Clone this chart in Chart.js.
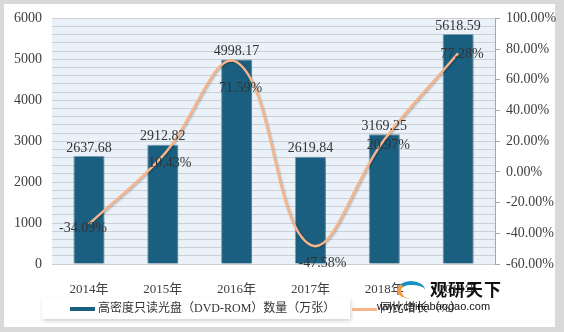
<!DOCTYPE html>
<html>
<head>
<meta charset="utf-8">
<script src="https://cdn.jsdelivr.net/npm/chart.js@4.4.0/dist/chart.umd.min.js"></script>
<style>
  html, body { margin: 0; padding: 0; }
  body { width: 564px; height: 332px; background: #d9d9d9; position: relative; overflow: hidden; font-family: 'Liberation Serif', 'Noto Sans CJK SC', serif; }
  #frame { position: absolute; left: 4px; top: 4px; width: 551px; height: 323px; background: #fff; }
  #chart { position: absolute; left: 0; top: 0; }
  #legend { position: absolute; left: 42px; top: 298px; width: 308px; height: 21px; background: #fff;
    box-shadow: 1px 2px 4px rgba(0,0,0,0.18); }
  .item { position: absolute; top: 3px; font-size: 12px; color: #333; white-space: nowrap; line-height: 15px; }
  .mark { display: inline-block; width: 25px; height: 4px; vertical-align: middle; margin-right: 3px; }
  #wm { position: absolute; left: 377px; top: 279px; width: 130px; color: #111; white-space: nowrap; }
  #wm .big { position: absolute; left: 53px; top: 0; font: bold 17px 'Noto Sans CJK SC'; letter-spacing: 1px; line-height: 20px; white-space: nowrap; }
  #wm .small { position: absolute; left: 0; top: 21px; font: 11px 'Liberation Sans', sans-serif; line-height: 12px; white-space: nowrap; }
  #wm .logo { position: absolute; left: 20px; top: 2px; width: 28px; height: 18px; border-radius: 50%;
    border-top: 4px solid #1a8fc4; border-left: 4px solid #f39a3a; box-sizing: border-box; }
</style>
</head>
<body>
<div id="frame"></div>
<canvas id="chart" width="564" height="332"></canvas>
<div id="legend">
  <div class="item" style="left:28px"><span class="mark" style="background:#1b5f80"></span>高密度只读光盘（DVD-ROM）数量（万张）</div>
  <div class="item" style="left:310px"><span class="mark" style="background:#f7b488;height:3px"></span>同比增长（%）</div>
</div>
<div id="wm"><div class="logo"></div><div class="big">观研天下</div><div class="small">www.chinabaogao.com</div></div>
<script>
// 数据
const years = ['2014年', '2015年', '2016年', '2017年', '2018年', '2019年'];
const discCount = [2637.68, 2912.82, 4998.17, 2619.84, 3169.25, 5618.59];
const yoyGrowth = [-34.09, 10.43, 71.59, -47.58, 20.97, 77.28];

// label nudges for the % labels (px)
const pctShift = [[-6, 4], [7, 7], [4, 26], [12, 18], [4, 6], [4, 1]];

const numFont = "14px 'Liberation Serif', 'Noto Sans CJK SC', serif";

const plotBg = {
  id: 'plotBg',
  beforeDraw(chart) {
    const { ctx, chartArea: a } = chart;
    ctx.save();
    ctx.fillStyle = '#eaf1f8';
    ctx.fillRect(a.left, a.top, a.right - a.left, a.bottom - a.top);
    ctx.restore();
  }
};

const shadows = {
  id: 'shadows',
  beforeDatasetDraw(chart, args) {
    const ctx = chart.ctx;
    ctx.save();
    if (args.index === 0) {
      ctx.shadowColor = 'rgba(0,0,0,0.3)';
      ctx.shadowBlur = 4;
      ctx.shadowOffsetX = 2;
      ctx.shadowOffsetY = 1;
    } else {
      ctx.shadowColor = 'rgba(0,0,0,0.25)';
      ctx.shadowBlur = 2;
      ctx.shadowOffsetX = 1;
      ctx.shadowOffsetY = 1;
    }
  },
  afterDatasetDraw(chart) { chart.ctx.restore(); }
};

const valueLabels = {
  id: 'valueLabels',
  afterDatasetsDraw(chart) {
    const ctx = chart.ctx;
    ctx.save();
    ctx.font = numFont;
    ctx.fillStyle = '#333';
    ctx.textAlign = 'center';
    ctx.textBaseline = 'bottom';
    chart.getDatasetMeta(0).data.forEach((bar, i) => {
      ctx.fillText(discCount[i].toFixed(2), bar.x, bar.y - 1);
    });
    ctx.textBaseline = 'middle';
    chart.getDatasetMeta(1).data.forEach((pt, i) => {
      const s = pctShift[i];
      ctx.fillText(yoyGrowth[i].toFixed(2) + '%', pt.x + s[0], pt.y + s[1]);
    });
    ctx.restore();
  }
};

new Chart(document.getElementById('chart'), {
  data: {
    labels: years,
    datasets: [
      {
        type: 'bar',
        label: '高密度只读光盘（DVD-ROM）数量（万张）',
        data: discCount,
        backgroundColor: '#1b5f80',
        borderColor: '#7fa7bb',
        borderWidth: 1,
        barPercentage: 0.42,
        categoryPercentage: 1,
        yAxisID: 'y',
        order: 1
      },
      {
        type: 'line',
        label: '同比增长（%）',
        data: yoyGrowth,
        borderColor: '#f7b488',
        borderWidth: 2.5,
        tension: 0.4,
        pointRadius: 0,
        fill: false,
        yAxisID: 'y1',
        order: 0
      }
    ]
  },
  options: {
    responsive: false,
    animation: false,
    layout: { padding: { top: 18, left: 0, right: 0, bottom: 0 } },
    plugins: { legend: { display: false }, tooltip: { enabled: false } },
    scales: {
      x: {
        offset: true,
        grid: { display: false },
        border: { display: false },
        ticks: { padding: 10, color: '#404040', font: { family: "'Liberation Serif', 'Noto Sans CJK SC'", size: 13 } },
        afterFit(s) { s.height = 68; }
      },
      y: {
        position: 'left',
        min: 0,
        max: 6000,
        ticks: {
          stepSize: 200,
          autoSkip: false,
          padding: 10,
          color: '#404040',
          font: { family: "'Liberation Serif'", size: 14 },
          callback: v => (v % 1000 === 0 ? v : '')
        },
        grid: { color: '#cbd0d5', drawTicks: false },
        border: { display: false },
        afterFit(s) { s.width = 52; }
      },
      y1: {
        position: 'right',
        min: -60,
        max: 100,
        ticks: {
          stepSize: 20,
          autoSkip: false,
          padding: 6,
          color: '#404040',
          font: { family: "'Liberation Serif'", size: 14 },
          callback: v => v.toFixed(2) + '%'
        },
        grid: { drawOnChartArea: false, tickLength: 5, color: '#a6a6a6' },
        border: { display: true, color: '#a6a6a6' },
        afterFit(s) { s.width = 69; }
      }
    }
  },
  plugins: [plotBg, shadows, valueLabels]
});
</script>
</body>
</html>
